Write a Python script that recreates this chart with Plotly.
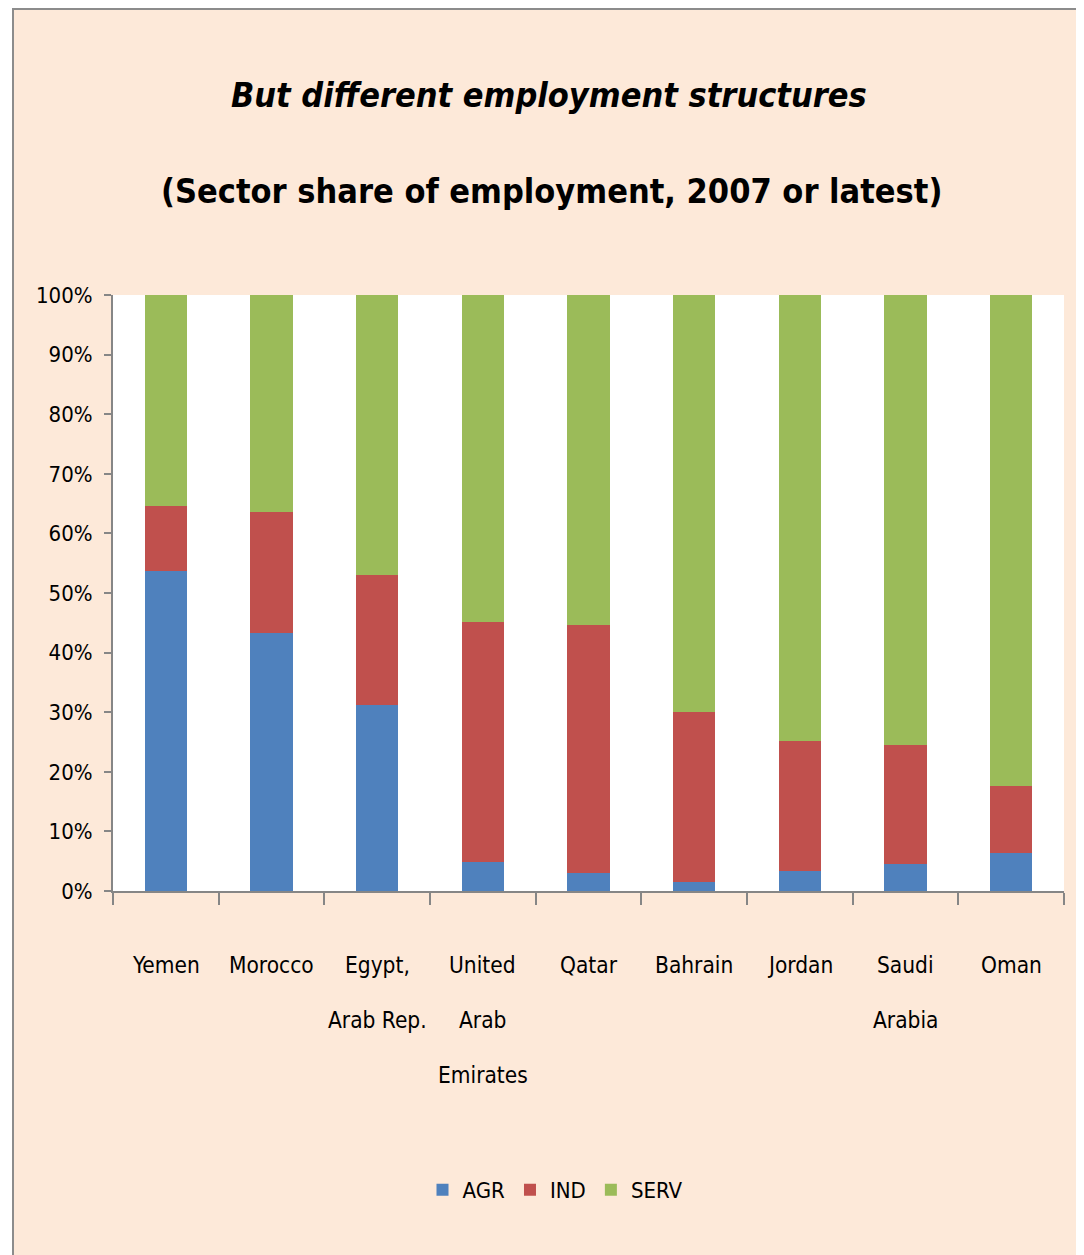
import plotly.graph_objects as go

# ---- data ----
categories = ["Yemen", "Morocco", "Egypt, Arab Rep.", "United Arab Emirates", "Qatar",
              "Bahrain", "Jordan", "Saudi Arabia", "Oman"]
label_lines = [["Yemen"], ["Morocco"], ["Egypt,", "Arab Rep."], ["United", "Arab", "Emirates"],
               ["Qatar"], ["Bahrain"], ["Jordan"], ["Saudi", "Arabia"], ["Oman"]]
agr = [53.7, 43.3, 31.2, 4.9, 3.0, 1.5, 3.4, 4.5, 6.4]
ind = [10.9, 20.3, 21.8, 40.2, 41.6, 28.5, 21.8, 20.0, 11.2]
serv = [35.4, 36.4, 47.0, 54.9, 55.4, 70.0, 74.8, 75.5, 82.4]
series_names = ["AGR", "IND", "SERV"]
title_line1 = "But different employment structures"
title_line2 = "(Sector share of employment, 2007 or latest)"

# ---- layout constants (page coords; page body has an 8px margin) ----
OFF = 8
PAGE_W, PAGE_H = 1084, 1255
W, H = PAGE_W - OFF, PAGE_H - OFF
PLOT_L, PLOT_R, PLOT_T, PLOT_B = 113, 1064, 295, 891
ML = PLOT_L - OFF
MR = PAGE_W - PLOT_R
MT = PLOT_T - OFF
MB = PAGE_H - PLOT_B
PW = PLOT_R - PLOT_L
PH = PLOT_B - PLOT_T
FONT = "Liberation Sans Narrow, DejaVu Sans Condensed, Arial Narrow, sans-serif"
BG = "#FDE9D9"
AXIS_GRAY = "#868686"
colors = ["#4F81BD", "#C0504D", "#9BBB59"]


def px_x(px):
    return (px - PLOT_L) / PW


def px_y(py):
    return (PLOT_B - py) / PH


fig = go.Figure()
for name, vals, col in zip(series_names, [agr, ind, serv], colors):
    fig.add_trace(go.Bar(x=categories, y=vals, name=name, marker=dict(color=col, line=dict(width=0))))

annotations = [
    dict(text="<b><i>" + title_line1 + "</i></b>", x=px_x(549), y=px_y(95), xref="paper", yref="paper",
         xanchor="center", yanchor="middle", showarrow=False, font=dict(family=FONT, size=34, color="black")),
    dict(text="<b>" + title_line2 + "</b>", x=px_x(551), y=px_y(191), xref="paper", yref="paper",
         xanchor="center", yanchor="middle", showarrow=False, font=dict(family=FONT, size=34, color="black")),
]
for cat, lines in zip(categories, label_lines):
    for i, line in enumerate(lines):
        annotations.append(dict(text=line, x=cat, xref="x", y=px_y(965 + 55 * i), yref="paper",
                                xanchor="center", yanchor="middle", showarrow=False,
                                font=dict(family=FONT, size=22.5, color="black")))

shapes = [
    dict(type="rect", xref="paper", yref="paper", x0=px_x(OFF), x1=px_x(12), y0=px_y(PAGE_H), y1=px_y(OFF),
         fillcolor="white", line=dict(width=0), layer="above"),
    dict(type="line", xref="paper", yref="paper", x0=px_x(13), x1=px_x(13), y0=px_y(PAGE_H), y1=px_y(OFF),
         line=dict(color="#8C8C8C", width=2), layer="above"),
    dict(type="line", xref="paper", yref="paper", x0=px_x(12), x1=px_x(PAGE_W), y0=px_y(OFF + 1), y1=px_y(OFF + 1),
         line=dict(color="#8C8C8C", width=2), layer="above"),
]

fig.update_layout(
    width=W, height=H,
    margin=dict(l=ML, r=MR, t=MT, b=MB, pad=0),
    paper_bgcolor=BG, plot_bgcolor="white",
    barmode="stack", barnorm="percent", bargap=0.6,
    showlegend=True,
    legend=dict(orientation="h", x=px_x(555), xanchor="center", y=px_y(1190), yanchor="middle",
                font=dict(family=FONT, size=22, color="black"), bgcolor="rgba(0,0,0,0)",
                itemwidth=30, traceorder="normal"),
    annotations=annotations,
    shapes=shapes,
    font=dict(family=FONT, color="black"),
)
fig.update_yaxes(range=[0, 100], dtick=10, ticksuffix="%", showgrid=False, zeroline=False,
                 showline=True, linecolor=AXIS_GRAY, linewidth=2,
                 ticks="outside", ticklen=7, tickwidth=2, tickcolor=AXIS_GRAY,
                 tickfont=dict(family=FONT, size=22, color="black"), ticklabelstandoff=7)
fig.update_xaxes(showgrid=False, zeroline=False, showline=True, linecolor=AXIS_GRAY, linewidth=2,
                 ticks="outside", ticklen=12, tickwidth=2, tickcolor=AXIS_GRAY, tickson="boundaries",
                 showticklabels=False, range=[-0.5, len(categories) - 0.5])

fig.write_html("out.html")
